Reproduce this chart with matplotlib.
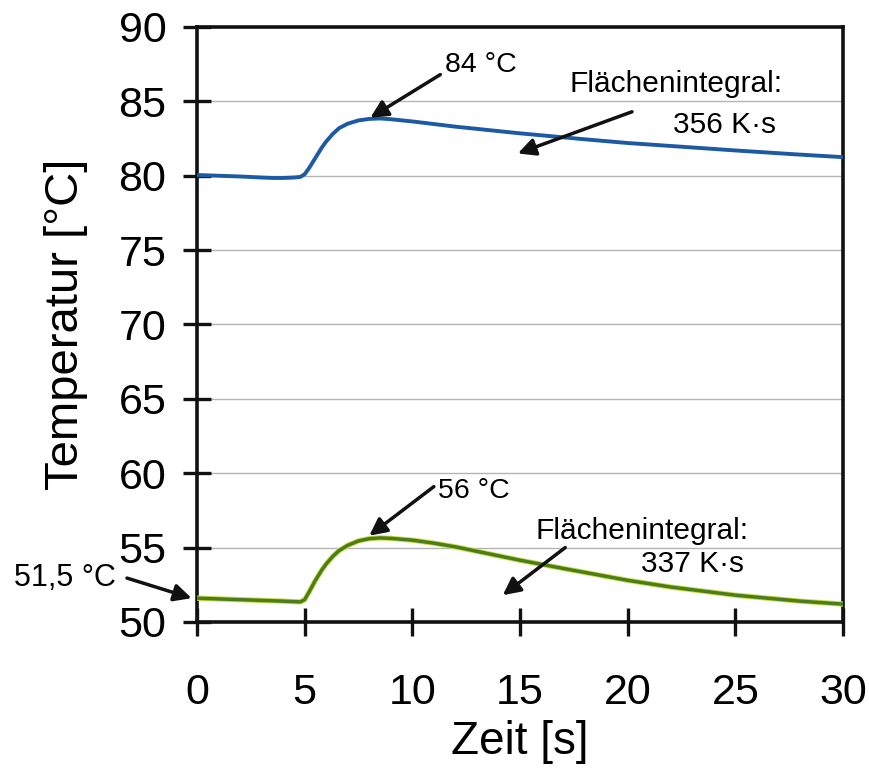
import matplotlib
matplotlib.use("Agg")
import matplotlib.pyplot as plt
import matplotlib.patheffects as pe

plt.rcParams['font.family'] = ['Liberation Sans', 'DejaVu Sans']

# upper curve (blue)
t_blue = [0, 1, 2, 3, 3.5, 4, 4.5, 4.8, 5.0, 5.2, 5.5, 5.8, 6.0, 6.3, 6.6, 7.0, 7.5, 8.0, 8.5,
          9.0, 10, 12, 15, 18, 20, 22, 25, 28, 30]
T_blue = [80.05, 80.0, 79.95, 79.88, 79.85, 79.85, 79.88, 79.92, 80.1, 80.5, 81.2, 81.9, 82.3,
          82.8, 83.2, 83.5, 83.72, 83.82, 83.85, 83.8, 83.65, 83.3, 82.85, 82.45, 82.2,
          82.0, 81.7, 81.42, 81.25]

# lower curve (green)
t_green = [0, 1, 2, 3, 4, 4.8, 5.0, 5.2, 5.5, 5.8, 6.0, 6.3, 6.6, 7.0, 7.5, 8.0, 8.5, 9.0,
           10, 11, 12, 14, 15, 17, 20, 22, 25, 28, 30]
T_green = [51.6, 51.55, 51.5, 51.45, 51.4, 51.35, 51.5, 52.0, 52.8, 53.5, 53.9, 54.4, 54.8,
           55.15, 55.45, 55.6, 55.65, 55.62, 55.5, 55.3, 55.05, 54.45, 54.15, 53.6,
           52.8, 52.35, 51.8, 51.4, 51.2]

xticks = [0, 5, 10, 15, 20, 25, 30]
yticks = [50, 55, 60, 65, 70, 75, 80, 85, 90]

fig = plt.figure(figsize=(8.7, 7.69), dpi=100)
ax = fig.add_axes([0.2264, 0.1912, 0.7426, 0.7737])

for y in yticks[1:-1]:
    ax.axhline(y, color='#b4b4b4', lw=1.0, zorder=1)

ax.plot(t_blue, T_blue, color='#1c5aa3', lw=2.8, zorder=3)
ax.plot(t_green, T_green, color='#4c7d17', lw=2.5, zorder=3,
        path_effects=[pe.Stroke(linewidth=3.8, foreground='#c9dc50'), pe.Normal()])

ax.set_xlim(0, 30)
ax.set_ylim(50, 90)
ax.set_xticks(xticks)
ax.set_yticks(yticks)
ax.tick_params(axis='both', direction='inout', length=20, width=2.4, labelsize=31, color='#111111')
ax.tick_params(axis='x', pad=27)
ax.tick_params(axis='y', pad=12)
for s in ax.spines.values():
    s.set_linewidth(2.6)
    s.set_color('#111111')

ax.set_xlabel('Zeit [s]', fontsize=33, labelpad=5)
ax.set_ylabel('Temperatur [°C]', fontsize=34, labelpad=22)

arrow = dict(arrowstyle='-|>', color='#111111', lw=2.5, mutation_scale=26, shrinkA=0, shrinkB=0)

ax.annotate('', xy=(8.05, 83.9), xytext=(11.3, 86.8), arrowprops=arrow)
ax.text(11.5, 87.45, '84 °C', fontsize=20.5, ha='left', va='center')

ax.annotate('', xy=(14.9, 81.5), xytext=(20.2, 84.3), arrowprops=arrow)
ax.text(17.3, 86.2, 'Flächenintegral:', fontsize=21.5, ha='left', va='center')
ax.text(26.9, 83.4, '356 K·s', fontsize=21.5, ha='right', va='center')

ax.annotate('', xy=(8.0, 55.8), xytext=(11.0, 59.1), arrowprops=arrow)
ax.text(11.2, 58.8, '56 °C', fontsize=20.5, ha='left', va='center')

ax.annotate('', xy=(14.2, 51.8), xytext=(17.1, 55.0), arrowprops=arrow)
ax.text(15.7, 56.1, 'Flächenintegral:', fontsize=21.5, ha='left', va='center')
ax.text(25.4, 53.9, '337 K·s', fontsize=21.5, ha='right', va='center')

ax.annotate('', xy=(-0.25, 51.6), xytext=(-3.25, 52.95), arrowprops=arrow,
            annotation_clip=False)
ax.text(-8.5, 52.95, '51,5 °C', fontsize=22, ha='left', va='center', clip_on=False)

fig.savefig('out.png', dpi=100)
